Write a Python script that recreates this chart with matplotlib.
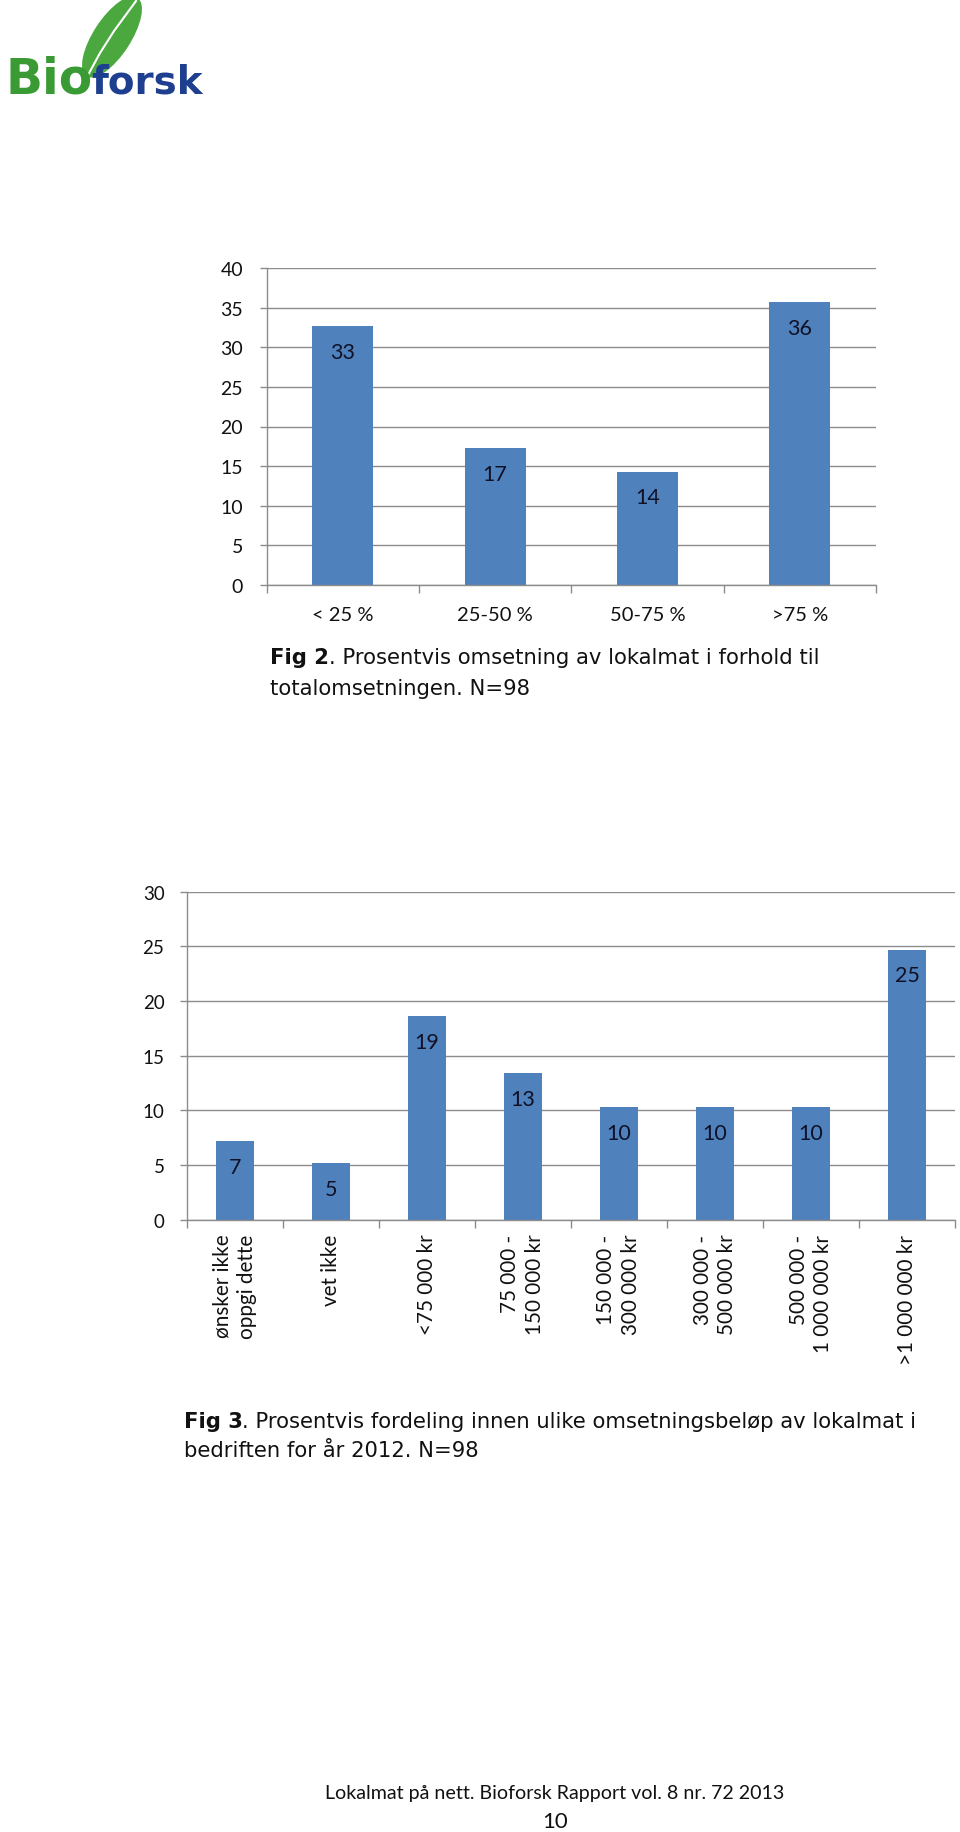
import matplotlib
matplotlib.use("Agg")
import matplotlib.pyplot as plt
from matplotlib.patches import Ellipse
import numpy as np

plt.rcParams['font.family'] = ['Lato', 'DejaVu Sans']

# ---------------- data ----------------
fig2_categories = ["< 25 %", "25-50 %", "50-75 %", ">75 %"]
fig2_values = [32.7, 17.3, 14.3, 35.7]
fig2_labels = ["33", "17", "14", "36"]
fig2_yticks = [0, 5, 10, 15, 20, 25, 30, 35, 40]

fig3_categories = ["ønsker ikke\noppgi dette", "vet ikke", "<75 000 kr",
                   "75 000 -\n150 000 kr", "150 000 -\n300 000 kr",
                   "300 000 -\n500 000 kr", "500 000 -\n1 000 000 kr",
                   ">1 000 000 kr"]
fig3_values = [7.2, 5.2, 18.6, 13.4, 10.3, 10.3, 10.3, 24.7]
fig3_labels = ["7", "5", "19", "13", "10", "10", "10", "25"]
fig3_yticks = [0, 5, 10, 15, 20, 25, 30]

caption2_bold = "Fig 2"
caption2_rest = ". Prosentvis omsetning av lokalmat i forhold til"
caption2_line2 = "totalomsetningen. N=98"
caption3_bold = "Fig 3"
caption3_rest = ". Prosentvis fordeling innen ulike omsetningsbeløp av lokalmat i"
caption3_line2 = "bedriften for år 2012. N=98"
footer_text = "Lokalmat på nett. Bioforsk Rapport vol. 8 nr. 72 2013"
page_number = "10"

BAR = "#4F81BD"
GRID = "#8C8C8C"
W, H = 960, 1833

fig = plt.figure(figsize=(W / 100, H / 100), dpi=100)


def rect(x0, y0, x1, y1):
    return [x0 / W, 1 - y1 / H, (x1 - x0) / W, (y1 - y0) / H]


def style_bar_axes(ax, yticks, ylab_size, ypad):
    ax.set_axisbelow(True)
    for s in ["top", "right"]:
        ax.spines[s].set_visible(False)
    for s in ["left", "bottom"]:
        ax.spines[s].set_color(GRID)
        ax.spines[s].set_linewidth(1.0)
    ax.set_yticks(yticks)
    ax.set_ylim(yticks[0], yticks[-1])
    ax.yaxis.grid(True, color=GRID, linewidth=1.0)
    ax.tick_params(axis='y', length=5, width=1.0, color=GRID, pad=ypad,
                   labelsize=ylab_size, labelcolor="#111111")


def bar_chart(ax, cats, vals, labels, yticks, ylab, xlab, dlab, ypad, xpad, rot):
    n = len(cats)
    x = np.arange(n)
    ax.bar(x, vals, width=0.4, color=BAR, zorder=2)
    ax.set_xlim(-0.5, n - 0.5)
    style_bar_axes(ax, yticks, ylab, ypad)
    ax.set_xticks(x)
    if rot:
        ax.set_xticklabels(cats, rotation=90, va='top', ha='center',
                           multialignment='right', linespacing=1.3)
    else:
        ax.set_xticklabels(cats)
    ax.tick_params(axis='x', which='major', length=0, pad=xpad,
                   labelsize=xlab, labelcolor="#111111")
    ax.set_xticks(np.arange(n + 1) - 0.5, minor=True)
    ax.tick_params(axis='x', which='minor', length=6, width=1.0, color=GRID)
    for xi, v, lab in zip(x, vals, labels):
        ax.annotate(lab, (xi, v), xytext=(0, -18.5), textcoords='offset points',
                    ha='center', va='center', fontsize=dlab, color="#111126")


ax1 = fig.add_axes(rect(266.6, 269.3, 876, 585.7))
bar_chart(ax1, fig2_categories, fig2_values, fig2_labels, fig2_yticks,
          14, 14.5, 15.5, 12, 15, False)

ax2 = fig.add_axes(rect(186.7, 892.8, 955, 1220.7))
bar_chart(ax2, fig3_categories, fig3_values, fig3_labels, fig3_yticks,
          13.5, 14.9, 15.5, 11, 10, True)

# ---------------- captions ----------------
renderer = fig.canvas.get_renderer()
CAP_FONT = ['DejaVu Sans']
CAP_SIZE = 15.2


def caption(x, y1, y2, bold, rest, line2):
    t = fig.text(x / W, 1 - y1 / H, bold, fontsize=CAP_SIZE, fontweight='bold',
                 family=CAP_FONT, va='center', ha='left', color="#111111")
    bb = t.get_window_extent(renderer)
    fig.text(bb.x1 / W, 1 - y1 / H, rest, fontsize=CAP_SIZE, family=CAP_FONT,
             va='center', ha='left', color="#111111")
    fig.text(x / W, 1 - y2 / H, line2, fontsize=CAP_SIZE, family=CAP_FONT,
             va='center', ha='left', color="#111111")


caption(270, 658, 689, caption2_bold, caption2_rest, caption2_line2)
caption(183.6, 1422, 1451, caption3_bold, caption3_rest, caption3_line2)

fig.text(555 / W, 1 - 1794 / H, footer_text, fontsize=14.1, ha='center',
         va='center', color="#111111")
fig.text(555 / W, 1 - 1822 / H, page_number, fontsize=16, ha='center',
         va='center', color="#111111")

# ---------------- logo ----------------
axl = fig.add_axes(rect(0, 0, 210, 110))
axl.set_xlim(0, 210)
axl.set_ylim(110, 0)
axl.axis('off')
leaf = Ellipse((112, 38), 92, 36, angle=-57, color="#4BA83F", zorder=1)
axl.add_patch(leaf)
axl.plot([88, 100, 114, 136], [76, 54, 32, 2], color="white", lw=1.5, zorder=2)
axl.text(6, 93, "Bio", fontsize=35, fontweight='bold', family=['DejaVu Sans'],
         color="#3A9B35", va='baseline', ha='left', zorder=3)
axl.text(91, 93, "forsk", fontsize=28, fontweight='bold', family=['DejaVu Sans'],
         color="#1E3F8F", va='baseline', ha='left', zorder=3)

fig.savefig("out.png", dpi=100, facecolor="white")
